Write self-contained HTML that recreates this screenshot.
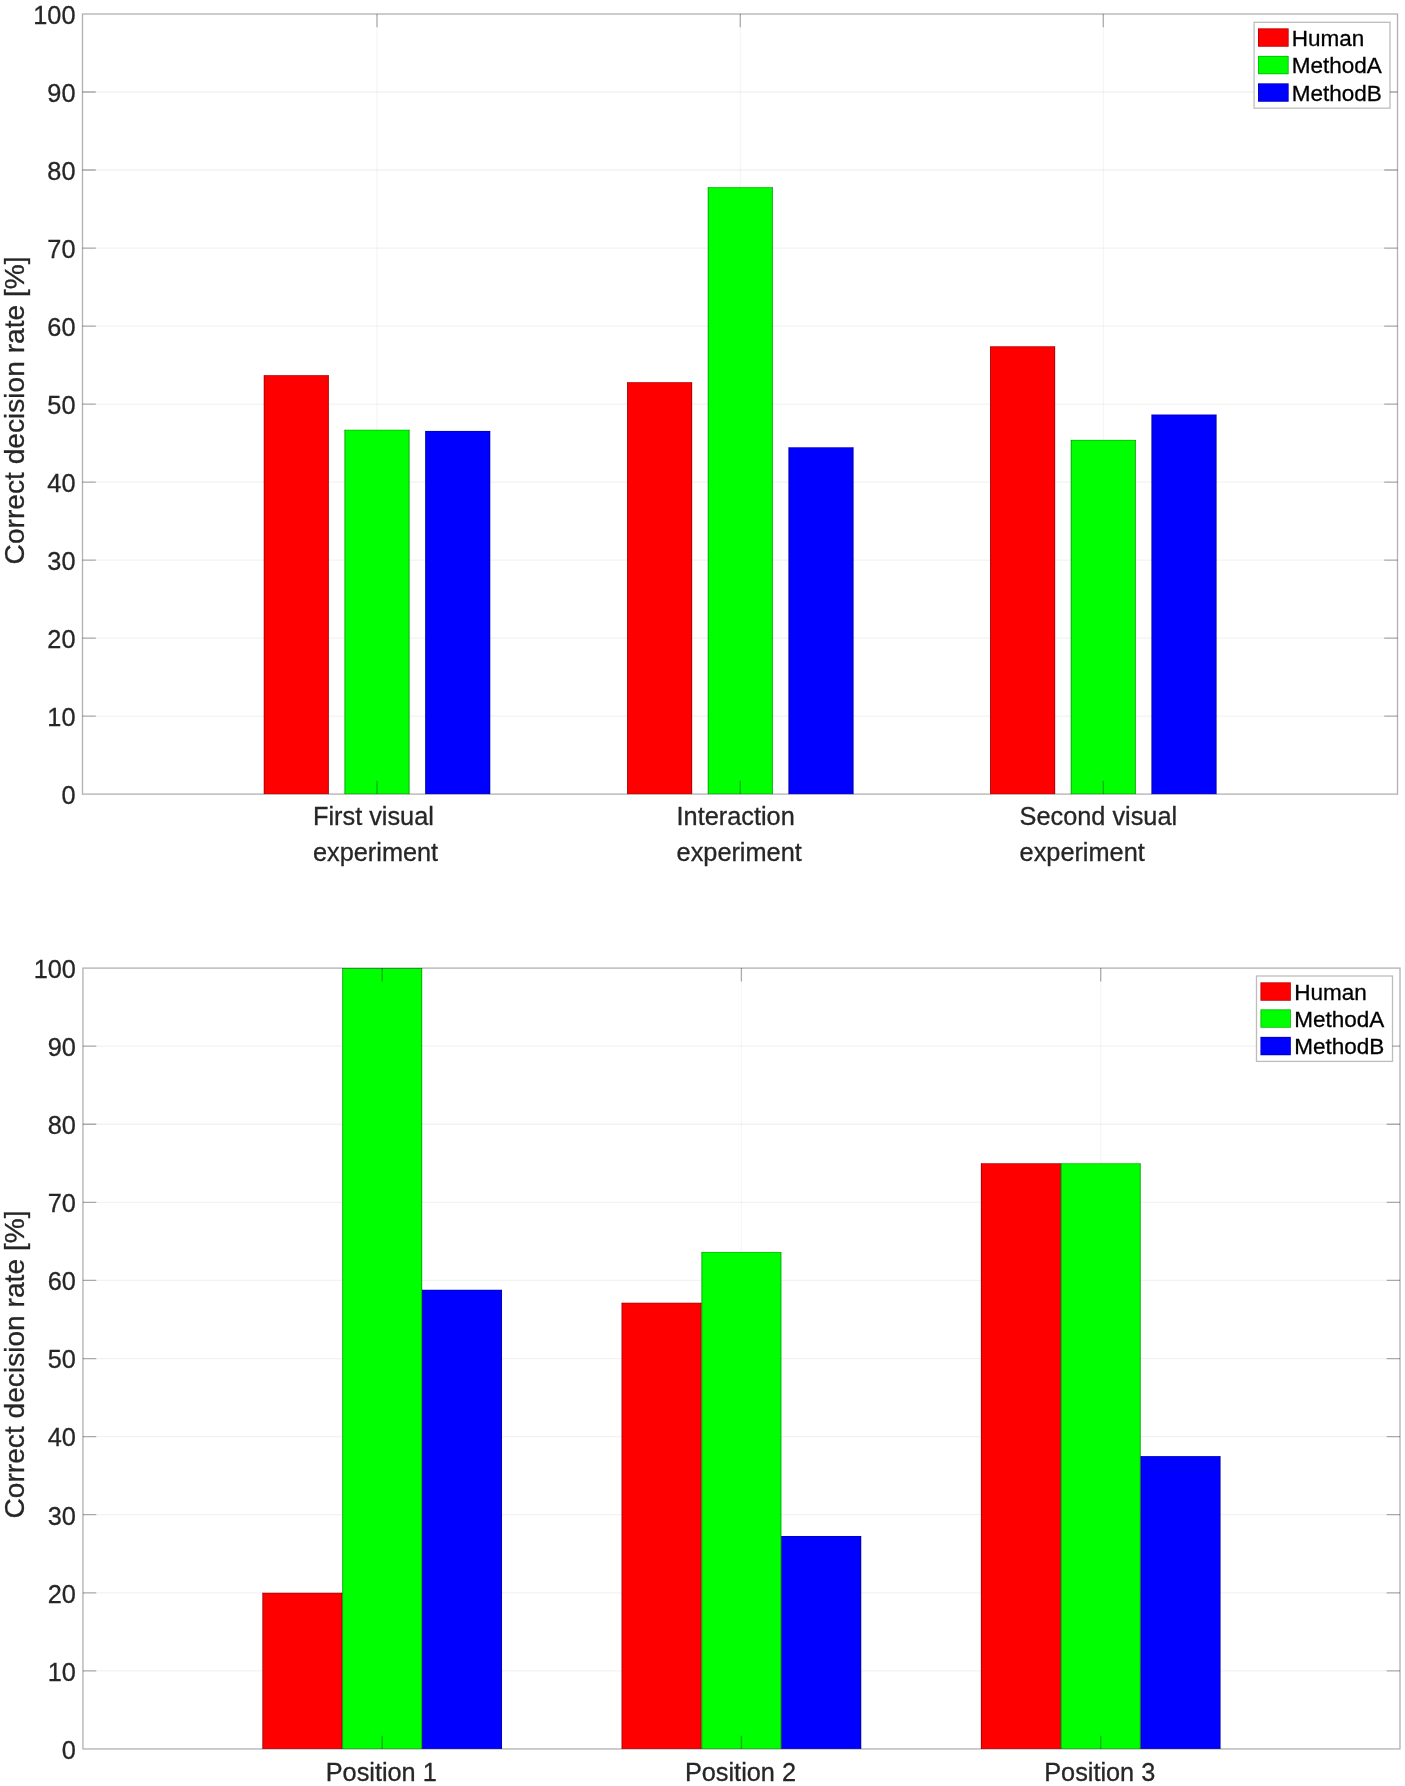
<!DOCTYPE html>
<html lang="en"><head><meta charset="utf-8"><title>Correct decision rate</title>
<style>html,body{margin:0;padding:0;background:#fff}body{width:1405px;height:1786px;overflow:hidden}svg{display:block;will-change:transform}text{font-family:"Liberation Sans", Arial, Helvetica, sans-serif;stroke-width:0.3px}</style>
</head><body>
<svg width="1405" height="1786" viewBox="0 0 1405 1786">
<rect width="1405" height="1786" fill="#fff"/>
<path d="M82.5 716.09H1397.5 M82.5 638.08H1397.5 M82.5 560.07H1397.5 M82.5 482.06H1397.5 M82.5 404.05H1397.5 M82.5 326.04H1397.5 M82.5 248.03H1397.5 M82.5 170.02H1397.5 M82.5 92.01H1397.5" stroke="#262626" stroke-opacity="0.06" stroke-width="1.3" fill="none"/>
<path d="M377.00 14.0V794.1 M740.30 14.0V794.1 M1103.30 14.0V794.1" stroke="#262626" stroke-opacity="0.04" stroke-width="1.3" fill="none"/>
<rect x="263.80" y="375.19" width="65.00" height="418.91" fill="#ff0000"/>
<rect x="344.50" y="429.79" width="65.00" height="364.31" fill="#00ff00"/>
<rect x="425.20" y="430.96" width="65.00" height="363.14" fill="#0000ff"/>
<rect x="627.10" y="382.21" width="65.00" height="411.89" fill="#ff0000"/>
<rect x="707.80" y="187.18" width="65.00" height="606.92" fill="#00ff00"/>
<rect x="788.50" y="447.35" width="65.00" height="346.75" fill="#0000ff"/>
<rect x="990.10" y="346.32" width="65.00" height="447.78" fill="#ff0000"/>
<rect x="1070.80" y="439.93" width="65.00" height="354.17" fill="#00ff00"/>
<rect x="1151.50" y="414.58" width="65.00" height="379.52" fill="#0000ff"/>
<path d="M264.20 794.1V375.19M328.40 794.1V375.19 M344.90 794.1V429.79M409.10 794.1V429.79 M425.60 794.1V430.96M489.80 794.1V430.96 M627.50 794.1V382.21M691.70 794.1V382.21 M708.20 794.1V187.18M772.40 794.1V187.18 M788.90 794.1V447.35M853.10 794.1V447.35 M990.50 794.1V346.32M1054.70 794.1V346.32 M1071.20 794.1V439.93M1135.40 794.1V439.93 M1151.90 794.1V414.58M1216.10 794.1V414.58" stroke="#000" stroke-opacity="0.4" stroke-width="0.8" fill="none"/>
<path d="M263.80 375.59h65.00 M344.50 430.19h65.00 M425.20 431.36h65.00 M627.10 382.61h65.00 M707.80 187.58h65.00 M788.50 447.75h65.00 M990.10 346.72h65.00 M1070.80 440.33h65.00 M1151.50 414.98h65.00" stroke="#000" stroke-opacity="0.25" stroke-width="0.8" fill="none"/>
<rect x="82.5" y="14.0" width="1315.00" height="780.10" stroke="#262626" stroke-opacity="0.36" stroke-width="1.3" fill="none"/>
<path d="M82.5 716.09h13.3M1397.5 716.09h-13.3 M82.5 638.08h13.3M1397.5 638.08h-13.3 M82.5 560.07h13.3M1397.5 560.07h-13.3 M82.5 482.06h13.3M1397.5 482.06h-13.3 M82.5 404.05h13.3M1397.5 404.05h-13.3 M82.5 326.04h13.3M1397.5 326.04h-13.3 M82.5 248.03h13.3M1397.5 248.03h-13.3 M82.5 170.02h13.3M1397.5 170.02h-13.3 M82.5 92.01h13.3M1397.5 92.01h-13.3 M377.00 794.1v-13.3M377.00 14.0v13.3 M740.30 794.1v-13.3M740.30 14.0v13.3 M1103.30 794.1v-13.3M1103.30 14.0v13.3" stroke="#262626" stroke-opacity="0.36" stroke-width="1.3" fill="none"/>
<text x="75.50" y="803.95" text-anchor="end" font-size="25.3" fill="#262626" stroke="#262626">0</text>
<text x="75.50" y="725.94" text-anchor="end" font-size="25.3" fill="#262626" stroke="#262626">10</text>
<text x="75.50" y="647.93" text-anchor="end" font-size="25.3" fill="#262626" stroke="#262626">20</text>
<text x="75.50" y="569.92" text-anchor="end" font-size="25.3" fill="#262626" stroke="#262626">30</text>
<text x="75.50" y="491.91" text-anchor="end" font-size="25.3" fill="#262626" stroke="#262626">40</text>
<text x="75.50" y="413.90" text-anchor="end" font-size="25.3" fill="#262626" stroke="#262626">50</text>
<text x="75.50" y="335.89" text-anchor="end" font-size="25.3" fill="#262626" stroke="#262626">60</text>
<text x="75.50" y="257.88" text-anchor="end" font-size="25.3" fill="#262626" stroke="#262626">70</text>
<text x="75.50" y="179.87" text-anchor="end" font-size="25.3" fill="#262626" stroke="#262626">80</text>
<text x="75.50" y="101.86" text-anchor="end" font-size="25.3" fill="#262626" stroke="#262626">90</text>
<text x="75.50" y="23.85" text-anchor="end" font-size="25.3" fill="#262626" stroke="#262626">100</text>
<text x="313.00" y="825.40" font-size="25.3" fill="#262626" stroke="#262626">First visual</text>
<text x="313.00" y="860.80" font-size="25.3" fill="#262626" stroke="#262626">experiment</text>
<text x="676.60" y="825.40" font-size="25.3" fill="#262626" stroke="#262626">Interaction</text>
<text x="676.60" y="860.80" font-size="25.3" fill="#262626" stroke="#262626">experiment</text>
<text x="1019.60" y="825.40" font-size="25.3" fill="#262626" stroke="#262626">Second visual</text>
<text x="1019.60" y="860.80" font-size="25.3" fill="#262626" stroke="#262626">experiment</text>
<text transform="translate(24.20 410.40) rotate(-90)" text-anchor="middle" font-size="28.15" fill="#262626" stroke="#262626">Correct decision rate [%]</text>
<rect x="1254.1" y="22.3" width="135.90" height="85.90" fill="#fff" stroke="#262626" stroke-opacity="0.3" stroke-width="1.3"/>
<rect x="1258.0" y="28.40" width="30.60" height="18.3" fill="#ff0000"/>
<rect x="1258.4" y="28.80" width="29.80" height="17.5" fill="none" stroke="#000" stroke-opacity="0.28" stroke-width="0.8"/>
<text x="1291.8" y="45.80" font-size="22.5" fill="#000" stroke="#000">Human</text>
<rect x="1258.0" y="55.90" width="30.60" height="18.3" fill="#00ff00"/>
<rect x="1258.4" y="56.30" width="29.80" height="17.5" fill="none" stroke="#000" stroke-opacity="0.28" stroke-width="0.8"/>
<text x="1291.8" y="73.30" font-size="22.5" fill="#000" stroke="#000">MethodA</text>
<rect x="1258.0" y="83.40" width="30.60" height="18.3" fill="#0000ff"/>
<rect x="1258.4" y="83.80" width="29.80" height="17.5" fill="none" stroke="#000" stroke-opacity="0.28" stroke-width="0.8"/>
<text x="1291.8" y="100.80" font-size="22.5" fill="#000" stroke="#000">MethodB</text>
<path d="M82.95 1670.87H1400.0 M82.95 1592.78H1400.0 M82.95 1514.69H1400.0 M82.95 1436.61H1400.0 M82.95 1358.53H1400.0 M82.95 1280.44H1400.0 M82.95 1202.36H1400.0 M82.95 1124.27H1400.0 M82.95 1046.18H1400.0" stroke="#262626" stroke-opacity="0.06" stroke-width="1.3" fill="none"/>
<path d="M382.20 968.1V1748.95 M741.40 968.1V1748.95 M1100.70 968.1V1748.95" stroke="#262626" stroke-opacity="0.04" stroke-width="1.3" fill="none"/>
<rect x="262.43" y="1592.78" width="79.85" height="156.17" fill="#ff0000"/>
<rect x="342.27" y="968.10" width="79.85" height="780.85" fill="#00ff00"/>
<rect x="422.12" y="1289.81" width="79.85" height="459.14" fill="#0000ff"/>
<rect x="621.62" y="1302.77" width="79.85" height="446.18" fill="#ff0000"/>
<rect x="701.48" y="1252.02" width="79.85" height="496.93" fill="#00ff00"/>
<rect x="781.33" y="1536.01" width="79.85" height="212.94" fill="#0000ff"/>
<rect x="980.93" y="1163.31" width="79.85" height="585.64" fill="#ff0000"/>
<rect x="1060.78" y="1163.31" width="79.85" height="585.64" fill="#00ff00"/>
<rect x="1140.62" y="1456.13" width="79.85" height="292.82" fill="#0000ff"/>
<path d="M262.82 1748.95V1592.78M341.88 1748.95V1592.78 M342.67 1748.95V968.10M421.73 1748.95V968.10 M422.52 1748.95V1289.81M501.57 1748.95V1289.81 M622.02 1748.95V1302.77M701.08 1748.95V1302.77 M701.88 1748.95V1252.02M780.93 1748.95V1252.02 M781.73 1748.95V1536.01M860.78 1748.95V1536.01 M981.33 1748.95V1163.31M1060.38 1748.95V1163.31 M1061.18 1748.95V1163.31M1140.22 1748.95V1163.31 M1141.03 1748.95V1456.13M1220.07 1748.95V1456.13" stroke="#000" stroke-opacity="0.4" stroke-width="0.8" fill="none"/>
<path d="M262.43 1593.18h79.85 M342.27 968.50h79.85 M422.12 1290.21h79.85 M621.62 1303.17h79.85 M701.48 1252.42h79.85 M781.33 1536.41h79.85 M980.93 1163.71h79.85 M1060.78 1163.71h79.85 M1140.62 1456.53h79.85" stroke="#000" stroke-opacity="0.25" stroke-width="0.8" fill="none"/>
<rect x="82.95" y="968.1" width="1317.05" height="780.85" stroke="#262626" stroke-opacity="0.36" stroke-width="1.3" fill="none"/>
<path d="M82.95 1670.87h13.3M1400.0 1670.87h-13.3 M82.95 1592.78h13.3M1400.0 1592.78h-13.3 M82.95 1514.69h13.3M1400.0 1514.69h-13.3 M82.95 1436.61h13.3M1400.0 1436.61h-13.3 M82.95 1358.53h13.3M1400.0 1358.53h-13.3 M82.95 1280.44h13.3M1400.0 1280.44h-13.3 M82.95 1202.36h13.3M1400.0 1202.36h-13.3 M82.95 1124.27h13.3M1400.0 1124.27h-13.3 M82.95 1046.18h13.3M1400.0 1046.18h-13.3 M382.20 1748.95v-13.3M382.20 968.1v13.3 M741.40 1748.95v-13.3M741.40 968.1v13.3 M1100.70 1748.95v-13.3M1100.70 968.1v13.3" stroke="#262626" stroke-opacity="0.36" stroke-width="1.3" fill="none"/>
<text x="75.95" y="1758.80" text-anchor="end" font-size="25.3" fill="#262626" stroke="#262626">0</text>
<text x="75.95" y="1680.71" text-anchor="end" font-size="25.3" fill="#262626" stroke="#262626">10</text>
<text x="75.95" y="1602.63" text-anchor="end" font-size="25.3" fill="#262626" stroke="#262626">20</text>
<text x="75.95" y="1524.54" text-anchor="end" font-size="25.3" fill="#262626" stroke="#262626">30</text>
<text x="75.95" y="1446.46" text-anchor="end" font-size="25.3" fill="#262626" stroke="#262626">40</text>
<text x="75.95" y="1368.38" text-anchor="end" font-size="25.3" fill="#262626" stroke="#262626">50</text>
<text x="75.95" y="1290.29" text-anchor="end" font-size="25.3" fill="#262626" stroke="#262626">60</text>
<text x="75.95" y="1212.20" text-anchor="end" font-size="25.3" fill="#262626" stroke="#262626">70</text>
<text x="75.95" y="1134.12" text-anchor="end" font-size="25.3" fill="#262626" stroke="#262626">80</text>
<text x="75.95" y="1056.03" text-anchor="end" font-size="25.3" fill="#262626" stroke="#262626">90</text>
<text x="75.95" y="977.95" text-anchor="end" font-size="25.3" fill="#262626" stroke="#262626">100</text>
<text x="325.70" y="1780.55" font-size="25.3" fill="#262626" stroke="#262626">Position 1</text>
<text x="684.90" y="1780.55" font-size="25.3" fill="#262626" stroke="#262626">Position 2</text>
<text x="1044.20" y="1780.55" font-size="25.3" fill="#262626" stroke="#262626">Position 3</text>
<text transform="translate(24.20 1364.50) rotate(-90)" text-anchor="middle" font-size="28.15" fill="#262626" stroke="#262626">Correct decision rate [%]</text>
<rect x="1256.5" y="976.0" width="136.00" height="85.40" fill="#fff" stroke="#262626" stroke-opacity="0.3" stroke-width="1.3"/>
<rect x="1260.5" y="982.40" width="30.30" height="18.3" fill="#ff0000"/>
<rect x="1260.9" y="982.80" width="29.50" height="17.5" fill="none" stroke="#000" stroke-opacity="0.28" stroke-width="0.8"/>
<text x="1294.2" y="999.80" font-size="22.5" fill="#000" stroke="#000">Human</text>
<rect x="1260.5" y="1009.40" width="30.30" height="18.3" fill="#00ff00"/>
<rect x="1260.9" y="1009.80" width="29.50" height="17.5" fill="none" stroke="#000" stroke-opacity="0.28" stroke-width="0.8"/>
<text x="1294.2" y="1026.80" font-size="22.5" fill="#000" stroke="#000">MethodA</text>
<rect x="1260.5" y="1036.90" width="30.30" height="18.3" fill="#0000ff"/>
<rect x="1260.9" y="1037.30" width="29.50" height="17.5" fill="none" stroke="#000" stroke-opacity="0.28" stroke-width="0.8"/>
<text x="1294.2" y="1054.30" font-size="22.5" fill="#000" stroke="#000">MethodB</text>
</svg></body></html>
